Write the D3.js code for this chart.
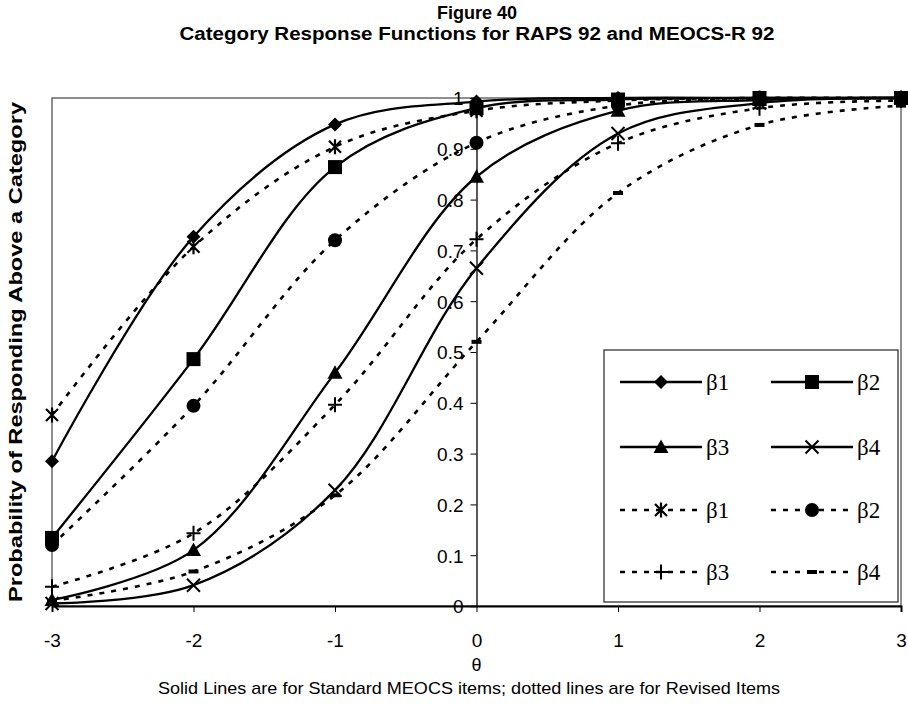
<!DOCTYPE html>
<html><head><meta charset="utf-8">
<script src="https://cdnjs.cloudflare.com/ajax/libs/d3/7.8.5/d3.min.js"></script>
<style>body{margin:0;background:#fff}svg{display:block}</style>
</head><body>
<script>
const thetas = [-3, -2, -1, 0, 1, 2, 3];
const xTicks = [-3, -2, -1, 0, 1, 2, 3];
const yTicks = [0, 0.1, 0.2, 0.3, 0.4, 0.5, 0.6, 0.7, 0.8, 0.9, 1];
// Standard MEOCS (solid)
const solidB1 = [0.285, 0.727, 0.948, 0.993, 1.0, 1.0, 1.0];
const solidB2 = [0.134, 0.486, 0.864, 0.980, 0.997, 1.0, 1.0];
const solidB3 = [0.012, 0.110, 0.459, 0.845, 0.975, 0.996, 1.0];
const solidB4 = [0.005, 0.041, 0.228, 0.665, 0.930, 0.990, 1.0];
// Revised items (dotted)
const dotB1 = [0.376, 0.707, 0.904, 0.975, 0.995, 1.0, 1.0];
const dotB2 = [0.120, 0.394, 0.720, 0.912, 0.985, 0.997, 1.0];
const dotB3 = [0.038, 0.143, 0.396, 0.722, 0.911, 0.980, 0.995];
const dotB4 = [0.010, 0.068, 0.218, 0.520, 0.813, 0.947, 0.985];

const series = [
  {name: "\u03b21", values: solidB1, dashed: false, marker: "diamond"},
  {name: "\u03b22", values: solidB2, dashed: false, marker: "square"},
  {name: "\u03b23", values: solidB3, dashed: false, marker: "triangle"},
  {name: "\u03b24", values: solidB4, dashed: false, marker: "x"},
  {name: "\u03b21", values: dotB1, dashed: true, marker: "asterisk"},
  {name: "\u03b22", values: dotB2, dashed: true, marker: "circle"},
  {name: "\u03b23", values: dotB3, dashed: true, marker: "plus"},
  {name: "\u03b24", values: dotB4, dashed: true, marker: "dash"}
];

const W = 908, H = 708;
const m = {left: 52, right: 7, top: 98, bottom: 102};
const svg = d3.select("body").append("svg").attr("width", W).attr("height", H);
const SANS = "'Liberation Sans', Arial, sans-serif";

const x = d3.scaleLinear().domain([-3, 3]).range([m.left, W - m.right]);
const y = d3.scaleLinear().domain([0, 1]).range([H - m.bottom, m.top]);

// titles
svg.append("text").attr("x", 477).attr("y", 19).attr("text-anchor", "middle")
  .style("font", `bold 18px ${SANS}`).text("Figure 40");
svg.append("text").attr("x", 477).attr("y", 40).attr("text-anchor", "middle")
  .style("font", `bold 18px ${SANS}`).attr("textLength", 595).attr("lengthAdjust", "spacingAndGlyphs")
  .text("Category Response Functions for RAPS 92 and MEOCS-R 92");

// plot border
svg.append("rect").attr("x", x(-3)).attr("y", y(1)).attr("width", x(3) - x(-3)).attr("height", y(0) - y(1))
  .attr("fill", "none").attr("stroke", "#444").attr("stroke-width", 1.2);

// x axis at bottom
const xAxis = d3.axisBottom(x).tickValues(xTicks).tickSize(6).tickFormat(d3.format("d"));
const gx = svg.append("g").attr("transform", `translate(0,${y(0)})`).call(xAxis);
gx.select(".domain").attr("stroke", "#000").attr("stroke-width", 2);
gx.selectAll(".tick line").attr("stroke", "#000");
gx.selectAll(".tick text").attr("y", 41).attr("dy", 0).attr("fill", "#000")
  .style("font", `19px ${SANS}`)
  .text(d => d < 0 ? "-" + Math.abs(d) : d);

// y axis at theta = 0
const yAxis = d3.axisLeft(y).tickValues(yTicks).tickSize(6).tickFormat(d => d === 0 ? "0" : d === 1 ? "1" : d3.format(".1f")(d));
const gy = svg.append("g").attr("transform", `translate(${x(0)},0)`).call(yAxis);
gy.select(".domain").attr("stroke", "#000").attr("stroke-width", 1.3);
gy.selectAll(".tick line").attr("stroke", "#000");
gy.selectAll(".tick text").attr("x", -13).attr("dy", "0.36em").style("font", `19px ${SANS}`).attr("fill", "#000");

// axis titles
svg.append("text").attr("transform", `translate(22,${(y(0) + y(1)) / 2}) rotate(-90)`)
  .attr("text-anchor", "middle").style("font", `bold 18px ${SANS}`)
  .attr("textLength", 500).attr("lengthAdjust", "spacingAndGlyphs")
  .text("Probability of Responding Above a Category");
svg.append("text").attr("x", x(0)).attr("y", 671).attr("text-anchor", "middle")
  .style("font", `18px ${SANS}`).text("\u03b8");
svg.append("text").attr("x", 469).attr("y", 694).attr("text-anchor", "middle")
  .style("font", `17px ${SANS}`).attr("textLength", 622).attr("lengthAdjust", "spacingAndGlyphs")
  .text("Solid Lines are for Standard MEOCS items; dotted lines are for Revised Items");

const line = d3.line().x((d, i) => x(thetas[i])).y(d => y(d)).curve(d3.curveCatmullRom.alpha(0.5));

function drawMarker(g, type, cx, cy) {
  const s = 7;
  if (type === "diamond") {
    g.append("path").attr("d", `M${cx},${cy - s}L${cx + s},${cy}L${cx},${cy + s}L${cx - s},${cy}Z`).attr("fill", "#000");
  } else if (type === "square") {
    g.append("rect").attr("x", cx - 7).attr("y", cy - 7).attr("width", 14).attr("height", 14).attr("fill", "#000");
  } else if (type === "triangle") {
    g.append("path").attr("d", `M${cx},${cy - 7.5}L${cx + 7.5},${cy + 6}L${cx - 7.5},${cy + 6}Z`).attr("fill", "#000");
  } else if (type === "x") {
    g.append("path").attr("d", `M${cx - 6.5},${cy - 6.5}L${cx + 6.5},${cy + 6.5}M${cx + 6.5},${cy - 6.5}L${cx - 6.5},${cy + 6.5}`)
      .attr("stroke", "#000").attr("stroke-width", 2);
  } else if (type === "asterisk") {
    g.append("path").attr("d", `M${cx - 6},${cy - 6}L${cx + 6},${cy + 6}M${cx + 6},${cy - 6}L${cx - 6},${cy + 6}M${cx},${cy - 7.5}L${cx},${cy + 7.5}`)
      .attr("stroke", "#000").attr("stroke-width", 2.2);
  } else if (type === "circle") {
    g.append("circle").attr("cx", cx).attr("cy", cy).attr("r", 7).attr("fill", "#000");
  } else if (type === "plus") {
    g.append("path").attr("d", `M${cx - 7},${cy}L${cx + 7},${cy}M${cx},${cy - 7.5}L${cx},${cy + 7.5}`)
      .attr("stroke", "#000").attr("stroke-width", 2);
  } else if (type === "dash") {
    g.append("rect").attr("x", cx - 5).attr("y", cy - 2).attr("width", 10).attr("height", 4).attr("fill", "#000");
  }
}

const plot = svg.append("g");
series.slice().reverse().forEach(s => {
  plot.append("path").datum(s.values).attr("d", line).attr("fill", "none")
    .attr("stroke", "#000").attr("stroke-width", s.dashed ? 2.6 : 2.3)
    .attr("stroke-dasharray", s.dashed ? "5,7" : null);
});
series.slice().reverse().forEach(s => {
  const g = plot.append("g");
  s.values.forEach((v, i) => drawMarker(g, s.marker, x(thetas[i]), y(v)));
});

// legend
const lg = svg.append("g");
lg.append("rect").attr("x", 604).attr("y", 350).attr("width", 294).attr("height", 252)
  .attr("fill", "#fff").attr("stroke", "#333").attr("stroke-width", 1.3);
const rows = [382, 447, 510, 572];
const cols = [620, 771];
series.forEach((s, i) => {
  const r = Math.floor(i / 2), c = i % 2;
  const lx = cols[c], ly = rows[r];
  lg.append("line").attr("x1", lx).attr("x2", lx + 82).attr("y1", ly).attr("y2", ly)
    .attr("stroke", "#000").attr("stroke-width", s.dashed ? 2.6 : 2.3)
    .attr("stroke-dasharray", s.dashed ? "5,7" : null);
  drawMarker(lg, s.marker, lx + 41, ly);
  lg.append("text").attr("x", lx + 86).attr("y", ly + 8)
    .style("font", "23px 'Liberation Serif', 'Times New Roman', serif").text(s.name);
});
</script>
</body></html>
